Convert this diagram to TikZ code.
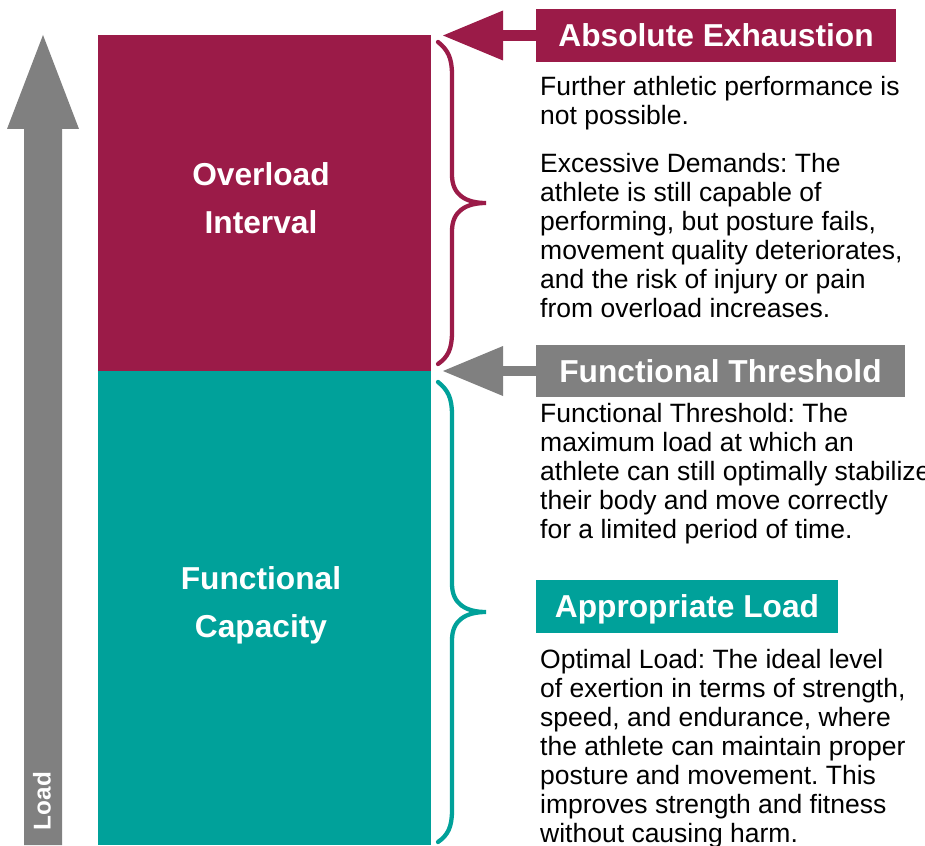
\documentclass[tikz,border=0pt]{standalone}
\usepackage{fontspec}
\setmainfont{Liberation Sans}
\usetikzlibrary{arrows.meta}
\frenchspacing

\definecolor{wine}{RGB}{155,27,72}
\definecolor{teal2}{RGB}{0,161,154}
\definecolor{midgray}{RGB}{128,128,128}

% multi-line nodes below are anchored at the baseline of their last line
\tikzset{
  body/.style={anchor=base west, inner sep=0pt, align=left, text=black,
    font=\fontsize{26.5}{29}\selectfont},
  banner/.style={inner sep=0pt, text=white,
    font=\fontsize{31.7}{36}\selectfont\bfseries,
    text height=22.7pt, text depth=0pt},
  block/.style={anchor=north west, inner sep=0pt, minimum width=333pt, draw=none},
  blocklabel/.style={anchor=base, align=center, text=white,
    font=\fontsize{31.7}{48}\selectfont\bfseries},
  brace/.style={line width=4.3pt, line cap=round},
  pointer/.style={line width=10.5pt,
    -{Triangle[length=60pt,width=50pt,line width=0pt]}},
}

\begin{document}
\begin{tikzpicture}[x=1pt, y=-1pt]
  \useasboundingbox (0,0) rectangle (925,845);

  % load axis: a wide upward arrow
  \fill[midgray] (24,845) -- (24,129) -- (7,129) -- (43,35) -- (79,129)
    -- (62,129) -- (62,845) -- cycle;
  \node[rotate=90, text=white, inner sep=0pt,
        font=\fontsize{24.3}{28}\selectfont\bfseries] (loadlbl) at (42,801) {Load};

  % the two load zones
  \node[block, fill=wine, minimum height=336pt] (overload) at (98,35) {};
  \node[block, fill=teal2, minimum height=474pt] (capacity) at (98,371) {};
  \node[blocklabel] (overloadlbl) at (261,233) {Overload\\Interval};
  \node[blocklabel] (capacitylbl) at (261,637) {Functional\\Capacity};

  % braces
  \draw[brace, wine] (438,42) .. controls (448,50) and (452,58) .. (452,75)
    -- (452,175) .. controls (452,195) and (466,203) .. (486,203)
    .. controls (466,203) and (452,211) .. (452,231)
    -- (452,332) .. controls (452,349) and (448,357) .. (438,364);
  \draw[brace, teal2] (438,382) .. controls (448,390) and (452,398) .. (452,415)
    -- (452,584) .. controls (452,604) and (466,612) .. (486,612)
    .. controls (466,612) and (452,620) .. (452,640)
    -- (452,810) .. controls (452,827) and (448,835) .. (438,842);

  % banners
  \node[banner, fill=wine, minimum width=360pt, minimum height=53pt]
    (exhaustion) at (716,35.5) {Absolute Exhaustion};
  \node[banner, fill=midgray, minimum width=369pt, minimum height=52pt]
    (threshold) at (720.5,371) {Functional Threshold};
  \node[banner, fill=teal2, minimum width=302pt, minimum height=53pt]
    (appropriate) at (687,606.5) {Appropriate Load};

  % pointers
  \coordinate (exhaustiontip) at (443,35.5);
  \coordinate (thresholdtip) at (443,371);
  \draw[pointer, wine] (exhaustion.west) -- (exhaustiontip);
  \draw[pointer, midgray] (threshold.west) -- (thresholdtip);

  % descriptions
  \node[body] (further) at (540,125) {Further athletic performance is\\not possible.};
  \node[body] (excessive) at (540,317) {Excessive Demands: The\\athlete is still capable of\\performing, but posture fails,\\movement quality deteriorates,\\and the risk of injury or pain\\from overload increases.};
  \node[body] (thresholdtxt) at (540,538) {Functional Threshold: The\\maximum load at which an\\athlete can still optimally stabilize\\their body and move correctly\\for a limited period of time.};
  \node[body] (optimal) at (540,842) {Optimal Load: The ideal level\\of exertion in terms of strength,\\speed, and endurance, where\\the athlete can maintain proper\\posture and movement. This\\improves strength and fitness\\without causing harm.};
\end{tikzpicture}
\end{document}
